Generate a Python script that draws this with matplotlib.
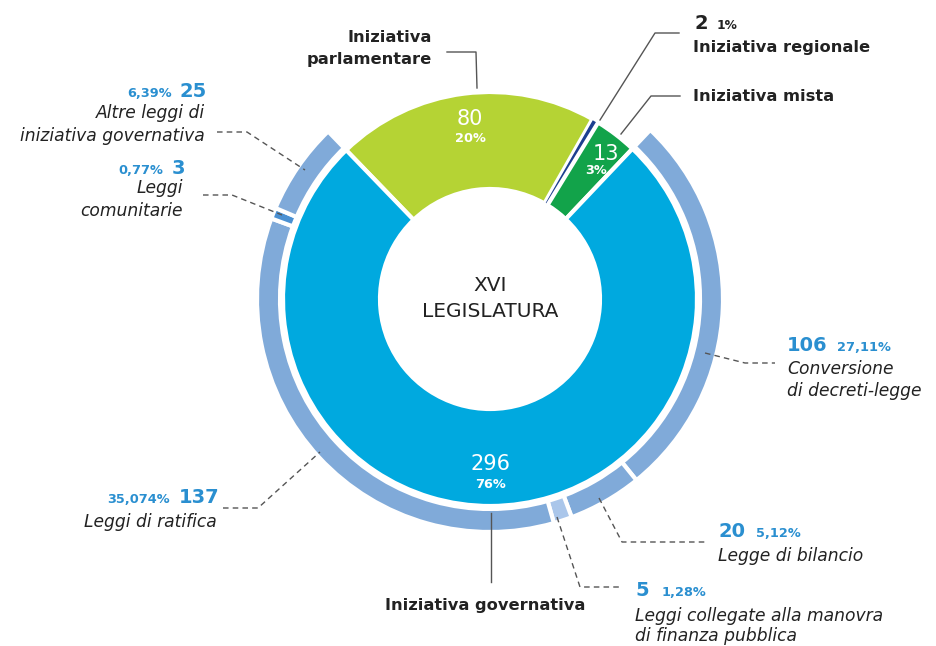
import matplotlib.pyplot as plt

W, H = 936, 646

# dati
inner_labels = ['Iniziativa\nparlamentare', 'Iniziativa regionale', 'Iniziativa mista', 'Iniziativa governativa']
inner_values = [80, 2, 13, 296]
inner_pcts = ['20%', '1%', '3%', '76%']
inner_colors = ['#b5d334', '#1d3f8f', '#12a34a', '#00a9df']

outer_labels = ['Conversione\ndi decreti-legge', 'Legge di bilancio',
                'Leggi collegate alla manovra\ndi finanza pubblica', 'Leggi di ratifica',
                'Leggi\ncomunitarie', 'Altre leggi di\niniziativa governativa']
outer_values = [106, 20, 5, 137, 3, 25]
outer_pcts = ['27,11%', '5,12%', '1,28%', '35,074%', '0,77%', '6,39%']
outer_colors = ['#80aad9', '#80aad9', '#aac6ea', '#80aad9', '#4a90d2', '#80aad9']

BLUE = '#2a8fd0'
DARK = '#222222'
LINE = '#555555'

plt.rcParams['font.family'] = ['DejaVu Sans']

LAB = 11.7   # etichette in grassetto
ITA = 12.3   # etichette in corsivo
NUM = 14     # numeri blu
PCT = 9.3    # percentuali


def Y(y):
    return H - y


def main():
    fig = plt.figure(figsize=(W / 100, H / 100), dpi=100)
    ax = fig.add_axes([0, 0, 1, 1])

    cx, cy = 490, Y(299)
    start = 134

    # anello interno
    wedges, _ = ax.pie(inner_values, colors=inner_colors, startangle=start, counterclock=False,
                       radius=207, center=(cx, cy),
                       wedgeprops=dict(width=97, edgecolor='white', linewidth=3))
    wedges[1].set_linewidth(1.2)

    # anello esterno (solo iniziativa governativa)
    hidden = sum(inner_values[:3])
    ow, _ = ax.pie([hidden] + outer_values, colors=['none'] + outer_colors, startangle=start,
                   counterclock=False, radius=233, center=(cx, cy),
                   wedgeprops=dict(width=23, edgecolor='white', linewidth=3))
    ow[0].set_visible(False)

    ax.set_xlim(0, W)
    ax.set_ylim(0, H)
    ax.set_aspect('equal')
    ax.axis('off')

    # testo centrale
    ax.text(cx, Y(291), 'XVI', ha='center', va='baseline', fontsize=14.5, color=DARK)
    ax.text(cx, Y(317), 'LEGISLATURA', ha='center', va='baseline', fontsize=14.5, color=DARK)

    # valori dentro le fette
    spots = {0: (470, 119, 470, 139), 2: (606, 154, 596, 171), 3: (490, 464, 490, 484)}
    for i, (x1, y1, x2, y2) in spots.items():
        ax.text(x1, Y(y1), str(inner_values[i]), ha='center', va='center', color='white',
                fontsize=15)
        ax.text(x2, Y(y2), inner_pcts[i], ha='center', va='center', color='white', fontsize=9.3,
                fontweight='bold')

    # etichette anello interno
    ax.text(432, Y(42), 'Iniziativa', ha='right', va='baseline', fontsize=LAB,
            fontweight='bold', color=DARK)
    ax.text(432, Y(64), 'parlamentare', ha='right', va='baseline', fontsize=LAB,
            fontweight='bold', color=DARK)
    ax.plot([447, 476, 477], [Y(52), Y(52), Y(88)], color=LINE, lw=1)

    ax.text(695, Y(29), str(inner_values[1]), ha='left', va='baseline', fontsize=14,
            fontweight='bold', color=DARK)
    ax.text(717, Y(29), inner_pcts[1], ha='left', va='baseline', fontsize=8.8,
            fontweight='bold', color=DARK)
    ax.text(693, Y(52), inner_labels[1], ha='left', va='baseline', fontsize=LAB,
            fontweight='bold', color=DARK)
    ax.plot([679, 655, 600], [Y(33), Y(33), Y(120)], color=LINE, lw=1)

    ax.text(693, Y(101), inner_labels[2], ha='left', va='baseline', fontsize=LAB,
            fontweight='bold', color=DARK)
    ax.plot([680, 651, 621], [Y(96), Y(96), Y(134)], color=LINE, lw=1)

    ax.text(385, Y(610), inner_labels[3], ha='left', va='baseline', fontsize=LAB,
            fontweight='bold', color=DARK)
    ax.plot([491, 491], [Y(513), Y(582)], color=LINE, lw=1)

    # etichette anello esterno
    # (x numero, x percento, baseline, allineamento, prima riga, interlinea)
    pos = [
        (787, 837, 351, 'left', 374, 22),
        (718, 756, 537, 'left', 561, 22),
        (635, 662, 596, 'left', 621, 20),
        (219, 170, 503, 'right', 527, 22),
        (185, 163, 174, 'right', 193, 23),
        (207, 172, 97, 'right', 118, 23),
    ]
    for (xn, xp, yb, ha, yt, dy), v, p, lab in zip(pos, outer_values, outer_pcts, outer_labels):
        ax.text(xn, Y(yb), str(v), ha=ha, va='baseline', fontsize=NUM, fontweight='bold',
                color=BLUE)
        ax.text(xp, Y(yb), p, ha=ha, va='baseline', fontsize=PCT, fontweight='bold', color=BLUE)
        tx = xn if ha == 'left' else xn - 2
        for k, line in enumerate(lab.split('\n')):
            ax.text(tx, Y(yt + dy * k), line, ha=ha, va='baseline', fontsize=ITA,
                    fontstyle='italic', color=DARK)

    dash = dict(color=LINE, lw=1, ls=(0, (4, 3)))
    ax.plot([705, 745, 775], [Y(353), Y(363), Y(363)], **dash)
    ax.plot([599, 622, 707], [Y(498), Y(542), Y(542)], **dash)
    ax.plot([557, 580, 622], [Y(517), Y(587), Y(587)], **dash)
    ax.plot([223, 258, 320], [Y(508), Y(508), Y(452)], **dash)
    ax.plot([217, 247, 305], [Y(132), Y(132), Y(170)], **dash)
    ax.plot([203, 232, 282], [Y(195), Y(195), Y(215)], **dash)

    fig.savefig('out.png', dpi=100)


if __name__ == '__main__':
    main()
